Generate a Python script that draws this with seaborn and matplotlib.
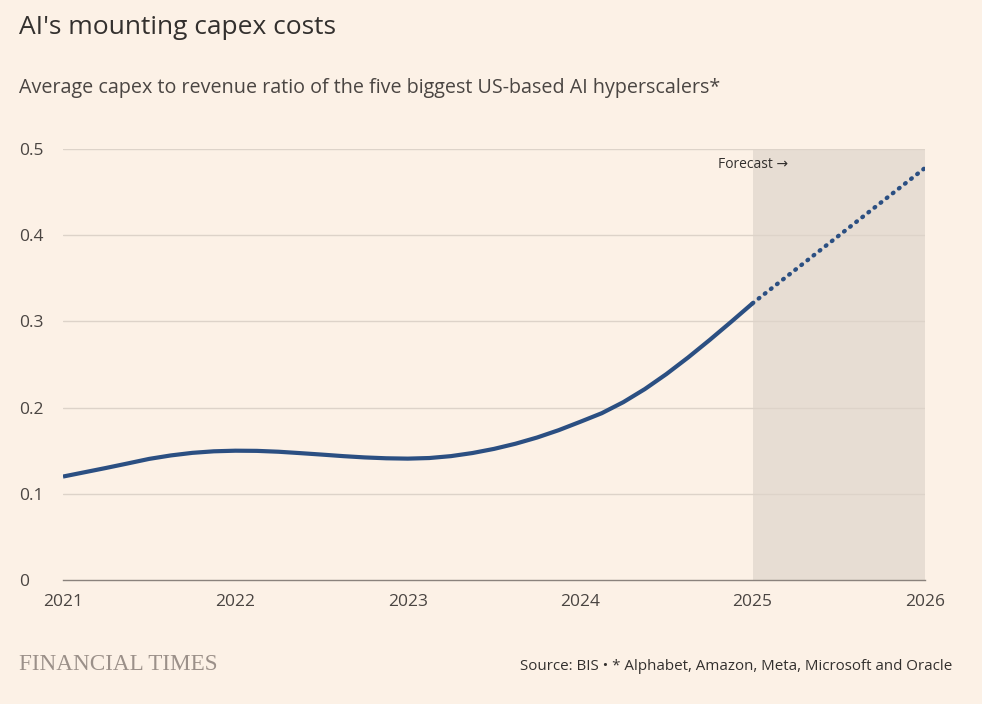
import matplotlib
matplotlib.use("Agg")
import matplotlib.pyplot as plt
import seaborn as sns
import pandas as pd

# ---- data ----
hist_years = [2021.0, 2021.125, 2021.25, 2021.375, 2021.5, 2021.625, 2021.75, 2021.875,
              2022.0, 2022.125, 2022.25, 2022.375, 2022.5, 2022.625, 2022.75, 2022.875,
              2023.0, 2023.125, 2023.25, 2023.375, 2023.5, 2023.625, 2023.75, 2023.875,
              2024.0, 2024.125, 2024.25, 2024.375, 2024.5, 2024.625, 2024.75, 2024.875,
              2025.0]
hist_ratio = [0.1200, 0.1250, 0.1300, 0.1352, 0.1405, 0.1445, 0.1475, 0.1493,
              0.1500, 0.1498, 0.1488, 0.1472, 0.1455, 0.1437, 0.1422, 0.1412,
              0.1408, 0.1415, 0.1437, 0.1473, 0.1521, 0.1581, 0.1653, 0.1738,
              0.1835, 0.1935, 0.2063, 0.2215, 0.2389, 0.2580, 0.2783, 0.2994,
              0.3210]
fc_years = [2025.0, 2026.0]
fc_ratio = [0.321, 0.478]
x_ticks = [2021, 2022, 2023, 2024, 2025, 2026]
y_ticks = [0, 0.1, 0.2, 0.3, 0.4, 0.5]
y_tick_labels = ["0", "0.1", "0.2", "0.3", "0.4", "0.5"]

title = "AI's mounting capex costs"
subtitle = "Average capex to revenue ratio of the five biggest US-based AI hyperscalers*"
source = "Source: BIS \u2022 * Alphabet, Amazon, Meta, Microsoft and Oracle"
forecast_label = "Forecast \u2192"

# ---- style ----
BG = "#fcf1e6"
SHADE = "#e7ddd3"
LINE = "#2b4f82"
GRID = "#ddd3c9"
TEXT = "#33302e"
TICK = "#4a4542"
FONT = ["Open Sans", "DejaVu Sans"]

sns.set_theme(style="white")
plt.rcParams["font.family"] = FONT

fig = plt.figure(figsize=(9.82, 7.04), dpi=100, facecolor=BG)
ax = fig.add_axes([63 / 982, 1 - 580 / 704, (925 - 63) / 982, (580 - 149) / 704])
ax.set_facecolor(BG)

# forecast shading
ax.axvspan(2025, 2026, color=SHADE, lw=0, zorder=0)

hist = pd.DataFrame({"year": hist_years, "ratio": hist_ratio})
fc = pd.DataFrame({"year": fc_years, "ratio": fc_ratio})

sns.lineplot(data=hist, x="year", y="ratio", ax=ax, color=LINE, lw=3.0,
             solid_capstyle="butt", solid_joinstyle="round", zorder=3)
sns.lineplot(data=fc, x="year", y="ratio", ax=ax, color=LINE, lw=3.1,
             linestyle=(0, (0.2, 1.6)), dash_capstyle="round", zorder=3)

ax.set_xlim(2021, 2026)
ax.set_ylim(0, 0.5)
ax.set_xticks(x_ticks)
ax.set_xticklabels([str(t) for t in x_ticks])
ax.set_yticks(y_ticks)
ax.set_yticklabels(y_tick_labels)
ax.set_xlabel("")
ax.set_ylabel("")

# gridlines (not at 0)
for v in y_ticks[1:]:
    ax.axhline(v, color=GRID, lw=1.0, zorder=1)

for s in ["top", "right", "left"]:
    ax.spines[s].set_visible(False)
ax.spines["bottom"].set_color("#8a827c")
ax.spines["bottom"].set_linewidth(1.0)
ax.spines["bottom"].set_zorder(2)

ax.tick_params(axis="x", direction="out", length=7, width=1.0, color="#8a827c",
               labelsize=12.5, labelcolor=TICK, pad=3)
ax.tick_params(axis="y", length=0, labelsize=12.5, labelcolor=TICK, pad=31.5)
for lab in ax.get_yticklabels():
    lab.set_horizontalalignment("left")

ax.text(2025.0, 0.482, forecast_label, ha="center", va="center",
        fontsize=10, color=TEXT)

# titles and footer
fig.text(19 / 982, 1 - 27 / 704, title, ha="left", va="center", fontsize=19, color=TEXT)
fig.text(19 / 982, 1 - 88 / 704, subtitle, ha="left", va="center", fontsize=14.2, color="#4a4542")
fig.text(19 / 982, 1 - 665 / 704, "FINANCIAL TIMES", ha="left", va="center",
         fontsize=16.7, color="#9b9089", family=["Liberation Serif", "DejaVu Serif"])
fig.text(952 / 982, 1 - 667 / 704, source, ha="right", va="center", fontsize=10.9, color=TEXT)

fig.savefig("out.png", dpi=100, facecolor=BG)
